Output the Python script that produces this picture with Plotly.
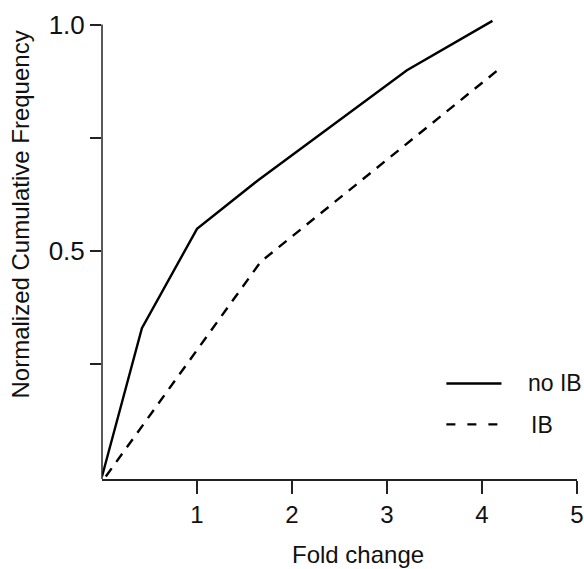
import plotly.graph_objects as go

# ---- data ----
series_names = ["no IB", "IB"]
no_ib_x = [0.0, 0.42, 1.0, 1.64, 3.21, 4.11]
no_ib_y = [0.0, 0.328, 0.548, 0.655, 0.899, 1.008]
ib_x = [0.04, 1.67, 4.16]
ib_y = [0.0, 0.475, 0.898]

x_tick_vals = [1, 2, 3, 4, 5]
x_tick_text = ["1", "2", "3", "4", "5"]
y_tick_vals = [0.25, 0.5, 0.75, 1.0]
y_tick_text = ["", "0.5", "", "1.0"]

x_title = "Fold change"
y_title = "Normalized Cumulative Frequency"

FONT = "Liberation Sans, Arial, sans-serif"
INK = "#111111"
AXIS = "#222222"

Y_MIN, Y_MAX = -0.0055, 1.0299

fig = go.Figure()
fig.add_trace(go.Scatter(x=no_ib_x, y=no_ib_y, mode="lines", name=series_names[0],
                         line=dict(color="black", width=2.4), showlegend=False))
fig.add_trace(go.Scatter(x=ib_x, y=ib_y, mode="lines", name=series_names[1],
                         line=dict(color="black", width=2.4, dash="10px,8px"), showlegend=False))

# y axis line only up to 1.0 (range-frame style)
fig.add_shape(type="line", xref="paper", yref="y", x0=0, x1=0, y0=Y_MIN, y1=1.0,
              line=dict(color=AXIS, width=1.5))

# manual legend
fig.add_shape(type="line", xref="paper", yref="paper", x0=0.725, x1=0.841, y0=0.2041, y1=0.2041,
              line=dict(color="black", width=2.4))
fig.add_shape(type="line", xref="paper", yref="paper", x0=0.725, x1=0.841, y0=0.1168, y1=0.1168,
              line=dict(color="black", width=2.4, dash="9px,12px"))
fig.add_annotation(text=series_names[0], xref="paper", yref="paper", x=0.8926, y=0.2051,
                   xanchor="left", yanchor="middle", showarrow=False,
                   font=dict(family=FONT, size=23, color=INK))
fig.add_annotation(text=series_names[1], xref="paper", yref="paper", x=0.8989, y=0.1154,
                   xanchor="left", yanchor="middle", showarrow=False,
                   font=dict(family=FONT, size=23, color=INK))

# axis titles
fig.add_annotation(text=x_title, xref="paper", yref="paper", x=0.5397, y=-0.1603,
                   xanchor="center", yanchor="middle", showarrow=False,
                   font=dict(family=FONT, size=24, color=INK))
fig.add_annotation(text=y_title, xref="paper", yref="paper", x=-0.1716, y=0.5662,
                   xanchor="center", yanchor="middle", showarrow=False, textangle=-90,
                   font=dict(family=FONT, size=24, color=INK))

fig.update_layout(
    width=584, height=569,
    margin=dict(l=102, r=7, t=11, b=90, autoexpand=False),
    paper_bgcolor="white", plot_bgcolor="white",
    showlegend=False,
    xaxis=dict(range=[0, 5], tickvals=x_tick_vals, ticktext=x_tick_text, automargin=False,
               showgrid=False, zeroline=False, showline=True, linecolor=AXIS, linewidth=1.5,
               ticks="outside", ticklen=13, tickwidth=1.5, tickcolor=AXIS,
               tickfont=dict(family=FONT, size=24, color=INK)),
    yaxis=dict(range=[Y_MIN, Y_MAX], tickvals=y_tick_vals, ticktext=y_tick_text, automargin=False,
               showgrid=False, zeroline=False, showline=False,
               ticks="outside", ticklen=11, tickwidth=1.5, tickcolor=AXIS,
               tickfont=dict(family=FONT, size=26, color=INK)),
)

# remove the page's default body margin so the figure fills the window exactly
fig.write_html("out.html",
               config={"displayModeBar": False},
               post_script="document.body.style.margin='0';document.body.style.overflow='hidden';")
